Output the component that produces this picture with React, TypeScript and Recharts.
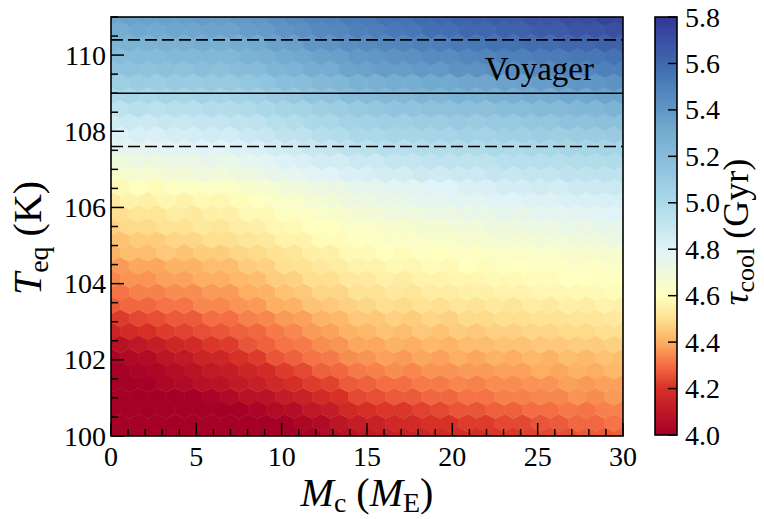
import { ScatterChart, Scatter, XAxis, YAxis, ReferenceLine } from "recharts";

// hexbin centres (gridsize 28 over Mc 0..30, Teq 100..111)
const mcEven = [0, 1.07, 2.14, 3.21, 4.29, 5.36, 6.43, 7.5, 8.57, 9.64, 10.71, 11.79, 12.86, 13.93, 15, 16.07, 17.14, 18.21, 19.29, 20.36, 21.43, 22.5, 23.57, 24.64, 25.71, 26.79, 27.86, 28.93, 30];
const mcOdd = [0.54, 1.61, 2.68, 3.75, 4.82, 5.89, 6.96, 8.04, 9.11, 10.18, 11.25, 12.32, 13.39, 14.46, 15.54, 16.61, 17.68, 18.75, 19.82, 20.89, 21.96, 23.04, 24.11, 25.18, 26.25, 27.32, 28.39, 29.46];
const teqRows = [100, 100.34, 100.69, 101.03, 101.38, 101.72, 102.06, 102.41, 102.75, 103.09, 103.44, 103.78, 104.13, 104.47, 104.81, 105.16, 105.5, 105.84, 106.19, 106.53, 106.88, 107.22, 107.56, 107.91, 108.25, 108.59, 108.94, 109.28, 109.63, 109.97, 110.31, 110.66, 111];

// tau_cool (Gyr) per hex, one row per teqRows entry
const tauRows = [
  [3.90, 3.91, 3.92, 3.93, 3.92, 3.94, 3.95, 3.96, 3.97, 3.98, 3.99, 4.01, 4.05, 4.07, 4.11, 4.12, 4.14, 4.15, 4.17, 4.18, 4.19, 4.21, 4.21, 4.23, 4.24, 4.25, 4.27, 4.27, 4.28],
  [3.92, 3.93, 3.94, 3.95, 3.96, 3.97, 3.97, 3.98, 3.99, 4.00, 4.03, 4.05, 4.09, 4.12, 4.14, 4.17, 4.18, 4.20, 4.20, 4.22, 4.22, 4.24, 4.24, 4.26, 4.27, 4.29, 4.29, 4.31],
  [3.94, 3.95, 3.96, 3.97, 3.97, 3.98, 3.99, 4.00, 4.02, 4.05, 4.06, 4.10, 4.12, 4.17, 4.19, 4.21, 4.21, 4.23, 4.24, 4.26, 4.26, 4.28, 4.28, 4.30, 4.30, 4.32, 4.31, 4.33, 4.33],
  [3.96, 3.97, 3.98, 3.99, 4.00, 4.02, 4.04, 4.07, 4.08, 4.12, 4.14, 4.18, 4.20, 4.24, 4.25, 4.27, 4.27, 4.29, 4.29, 4.31, 4.31, 4.33, 4.33, 4.34, 4.34, 4.36, 4.35, 4.37],
  [3.98, 3.99, 4.00, 4.03, 4.04, 4.07, 4.08, 4.11, 4.13, 4.17, 4.19, 4.22, 4.23, 4.27, 4.28, 4.30, 4.30, 4.32, 4.32, 4.34, 4.33, 4.35, 4.35, 4.36, 4.36, 4.38, 4.37, 4.38, 4.38],
  [4.00, 4.02, 4.03, 4.06, 4.08, 4.11, 4.12, 4.16, 4.18, 4.22, 4.24, 4.28, 4.29, 4.32, 4.33, 4.35, 4.34, 4.36, 4.36, 4.37, 4.37, 4.38, 4.38, 4.40, 4.39, 4.41, 4.40, 4.42],
  [4.02, 4.04, 4.05, 4.09, 4.11, 4.15, 4.16, 4.20, 4.22, 4.26, 4.28, 4.31, 4.32, 4.35, 4.36, 4.38, 4.37, 4.39, 4.38, 4.40, 4.39, 4.41, 4.40, 4.42, 4.41, 4.43, 4.42, 4.44, 4.43],
  [4.07, 4.10, 4.12, 4.16, 4.18, 4.21, 4.22, 4.26, 4.28, 4.31, 4.32, 4.35, 4.36, 4.39, 4.39, 4.41, 4.40, 4.42, 4.41, 4.43, 4.43, 4.44, 4.44, 4.45, 4.45, 4.46, 4.46, 4.47],
  [4.15, 4.18, 4.19, 4.22, 4.23, 4.25, 4.26, 4.28, 4.29, 4.32, 4.34, 4.37, 4.38, 4.41, 4.42, 4.44, 4.43, 4.45, 4.44, 4.46, 4.45, 4.47, 4.47, 4.48, 4.48, 4.49, 4.49, 4.50, 4.50],
  [4.22, 4.24, 4.25, 4.27, 4.27, 4.30, 4.30, 4.33, 4.34, 4.37, 4.38, 4.41, 4.42, 4.45, 4.45, 4.47, 4.46, 4.48, 4.47, 4.49, 4.49, 4.50, 4.50, 4.51, 4.51, 4.52, 4.52, 4.53],
  [4.27, 4.29, 4.29, 4.31, 4.31, 4.34, 4.34, 4.36, 4.37, 4.40, 4.41, 4.44, 4.45, 4.47, 4.48, 4.50, 4.49, 4.51, 4.50, 4.52, 4.51, 4.53, 4.52, 4.54, 4.53, 4.55, 4.54, 4.56, 4.55],
  [4.31, 4.33, 4.33, 4.35, 4.35, 4.37, 4.37, 4.40, 4.41, 4.44, 4.45, 4.48, 4.48, 4.51, 4.51, 4.53, 4.52, 4.54, 4.54, 4.55, 4.55, 4.56, 4.56, 4.57, 4.57, 4.58, 4.58, 4.59],
  [4.34, 4.36, 4.36, 4.38, 4.38, 4.40, 4.40, 4.42, 4.43, 4.46, 4.47, 4.50, 4.50, 4.53, 4.53, 4.55, 4.54, 4.56, 4.56, 4.57, 4.57, 4.58, 4.58, 4.59, 4.59, 4.60, 4.60, 4.61, 4.60],
  [4.37, 4.39, 4.39, 4.41, 4.41, 4.43, 4.43, 4.46, 4.47, 4.50, 4.51, 4.53, 4.54, 4.56, 4.56, 4.58, 4.57, 4.59, 4.58, 4.60, 4.59, 4.61, 4.60, 4.62, 4.61, 4.63, 4.62, 4.63],
  [4.41, 4.43, 4.43, 4.45, 4.44, 4.46, 4.46, 4.48, 4.49, 4.51, 4.52, 4.55, 4.55, 4.58, 4.58, 4.60, 4.59, 4.61, 4.60, 4.62, 4.61, 4.63, 4.63, 4.64, 4.64, 4.65, 4.65, 4.66, 4.66],
  [4.44, 4.46, 4.46, 4.48, 4.48, 4.50, 4.50, 4.52, 4.53, 4.56, 4.56, 4.59, 4.59, 4.61, 4.61, 4.63, 4.63, 4.64, 4.64, 4.66, 4.66, 4.68, 4.67, 4.69, 4.69, 4.70, 4.70, 4.72],
  [4.47, 4.49, 4.49, 4.51, 4.51, 4.53, 4.52, 4.54, 4.55, 4.57, 4.58, 4.60, 4.60, 4.63, 4.63, 4.65, 4.65, 4.67, 4.67, 4.69, 4.69, 4.71, 4.71, 4.72, 4.72, 4.74, 4.73, 4.75, 4.75],
  [4.50, 4.52, 4.52, 4.54, 4.53, 4.55, 4.55, 4.58, 4.58, 4.61, 4.62, 4.64, 4.65, 4.67, 4.68, 4.70, 4.70, 4.72, 4.72, 4.74, 4.74, 4.76, 4.75, 4.77, 4.77, 4.78, 4.78, 4.80],
  [4.54, 4.56, 4.55, 4.57, 4.56, 4.58, 4.57, 4.59, 4.60, 4.63, 4.64, 4.67, 4.68, 4.71, 4.72, 4.74, 4.74, 4.76, 4.76, 4.78, 4.78, 4.80, 4.79, 4.81, 4.81, 4.82, 4.82, 4.83, 4.83],
  [4.58, 4.60, 4.59, 4.61, 4.61, 4.62, 4.62, 4.65, 4.66, 4.69, 4.70, 4.73, 4.73, 4.76, 4.76, 4.78, 4.78, 4.80, 4.80, 4.82, 4.82, 4.84, 4.84, 4.86, 4.85, 4.87, 4.87, 4.88],
  [4.64, 4.66, 4.66, 4.68, 4.68, 4.70, 4.69, 4.71, 4.72, 4.75, 4.76, 4.79, 4.80, 4.82, 4.83, 4.85, 4.85, 4.87, 4.86, 4.88, 4.88, 4.90, 4.89, 4.91, 4.91, 4.92, 4.92, 4.93, 4.93],
  [4.70, 4.72, 4.71, 4.73, 4.73, 4.75, 4.74, 4.77, 4.78, 4.81, 4.82, 4.85, 4.85, 4.88, 4.88, 4.90, 4.90, 4.92, 4.92, 4.93, 4.93, 4.95, 4.95, 4.96, 4.96, 4.97, 4.97, 4.98],
  [4.76, 4.77, 4.77, 4.79, 4.78, 4.80, 4.79, 4.81, 4.82, 4.85, 4.86, 4.89, 4.90, 4.93, 4.94, 4.96, 4.95, 4.97, 4.97, 4.98, 4.98, 5.00, 4.99, 5.01, 5.01, 5.02, 5.02, 5.03, 5.03],
  [4.81, 4.83, 4.82, 4.84, 4.84, 4.86, 4.85, 4.88, 4.89, 4.92, 4.93, 4.96, 4.97, 5.00, 5.00, 5.02, 5.02, 5.03, 5.03, 5.05, 5.04, 5.06, 5.06, 5.08, 5.07, 5.09, 5.09, 5.10],
  [4.86, 4.88, 4.87, 4.89, 4.89, 4.90, 4.90, 4.92, 4.93, 4.96, 4.97, 5.00, 5.01, 5.04, 5.05, 5.07, 5.06, 5.08, 5.08, 5.10, 5.09, 5.11, 5.11, 5.13, 5.13, 5.15, 5.15, 5.17, 5.17],
  [4.93, 4.95, 4.94, 4.96, 4.95, 4.97, 4.97, 4.99, 5.00, 5.03, 5.04, 5.07, 5.08, 5.11, 5.12, 5.14, 5.14, 5.16, 5.16, 5.17, 5.17, 5.19, 5.19, 5.21, 5.21, 5.23, 5.23, 5.25],
  [5.00, 5.02, 5.01, 5.03, 5.02, 5.04, 5.03, 5.05, 5.06, 5.09, 5.11, 5.14, 5.15, 5.19, 5.20, 5.22, 5.22, 5.24, 5.24, 5.26, 5.25, 5.27, 5.27, 5.29, 5.29, 5.32, 5.32, 5.34, 5.34],
  [5.07, 5.09, 5.08, 5.10, 5.09, 5.11, 5.11, 5.13, 5.14, 5.18, 5.19, 5.22, 5.23, 5.26, 5.27, 5.29, 5.29, 5.31, 5.31, 5.33, 5.33, 5.35, 5.35, 5.37, 5.38, 5.40, 5.40, 5.42],
  [5.14, 5.16, 5.15, 5.17, 5.16, 5.18, 5.17, 5.19, 5.20, 5.24, 5.25, 5.29, 5.30, 5.34, 5.35, 5.37, 5.37, 5.39, 5.39, 5.42, 5.42, 5.44, 5.44, 5.46, 5.46, 5.48, 5.48, 5.50, 5.50],
  [5.19, 5.21, 5.20, 5.22, 5.22, 5.23, 5.23, 5.26, 5.27, 5.31, 5.32, 5.35, 5.36, 5.39, 5.40, 5.42, 5.43, 5.45, 5.45, 5.47, 5.48, 5.50, 5.50, 5.52, 5.52, 5.54, 5.54, 5.56],
  [5.24, 5.26, 5.26, 5.27, 5.27, 5.29, 5.28, 5.30, 5.31, 5.35, 5.36, 5.40, 5.41, 5.44, 5.45, 5.47, 5.48, 5.50, 5.51, 5.53, 5.54, 5.56, 5.56, 5.58, 5.58, 5.61, 5.61, 5.63, 5.63],
  [5.30, 5.32, 5.31, 5.33, 5.33, 5.34, 5.34, 5.37, 5.38, 5.41, 5.43, 5.46, 5.47, 5.50, 5.51, 5.53, 5.54, 5.57, 5.57, 5.60, 5.60, 5.62, 5.63, 5.65, 5.65, 5.68, 5.68, 5.70],
  [5.33, 5.35, 5.35, 5.36, 5.36, 5.38, 5.37, 5.39, 5.40, 5.43, 5.45, 5.48, 5.49, 5.52, 5.53, 5.56, 5.56, 5.59, 5.60, 5.62, 5.63, 5.65, 5.65, 5.68, 5.68, 5.71, 5.71, 5.74, 5.74],
];

const xTicks = [0, 1, 2, 3, 4, 5, 6, 7, 8, 9, 10, 11, 12, 13, 14, 15, 16, 17, 18, 19, 20, 21, 22, 23, 24, 25, 26, 27, 28, 29, 30];
const xLabels = [0, 5, 10, 15, 20, 25, 30];
const yTicks = [100, 100.5, 101, 101.5, 102, 102.5, 103, 103.5, 104, 104.5, 105, 105.5, 106, 106.5, 107, 107.5, 108, 108.5, 109, 109.5, 110, 110.5, 111];
const yLabels = [100, 102, 104, 106, 108, 110];
const cbTicks = [4.0, 4.2, 4.4, 4.6, 4.8, 5.0, 5.2, 5.4, 5.6, 5.8];
const voyagerTeq = 109;
const voyagerBand = [110.4, 107.6];

const W = 764;
const H = 519;
const PLOT = { left: 111, top: 17, right: 623, bottom: 436 };
const CB = { left: 655, right: 677, top: 17, bottom: 435 };
const FONT = "Liberation Serif, Times New Roman, DejaVu Serif, serif";
const serif = { fontFamily: FONT };
const TAU_MIN = 4.0;
const TAU_MAX = 5.8;

// colour stops matching the colorbar (RdYlBu)
const stops: [number, string][] = [
  [4.0, "#a50026"],
  [4.2, "#d73027"],
  [4.3, "#f46d43"],
  [4.4, "#fdae61"],
  [4.5, "#fee090"],
  [4.6, "#ffffbf"],
  [4.8, "#e0f3f8"],
  [5.0, "#abd9e9"],
  [5.3, "#74add1"],
  [5.55, "#4575b4"],
  [5.8, "#313695"],
];

const rgb = (h: string) => [1, 3, 5].map((i) => parseInt(h.slice(i, i + 2), 16));

function tauColor(v: number) {
  if (v <= stops[0][0]) return stops[0][1];
  for (let i = 1; i < stops.length; i++) {
    if (v <= stops[i][0]) {
      const [a, ca] = stops[i - 1];
      const [b, cb] = stops[i];
      const t = (v - a) / (b - a);
      const p = rgb(ca);
      const q = rgb(cb);
      const c = p.map((x, j) => Math.round(x + (q[j] - x) * t));
      return `rgb(${c[0]},${c[1]},${c[2]})`;
    }
  }
  return stops[stops.length - 1][1];
}

const hexData = teqRows.flatMap((teq, k) => {
  const xs = k % 2 === 0 ? mcEven : mcOdd;
  return tauRows[k].map((tau, i) => ({ mc: xs[i], teq, tau }));
});

const PW = PLOT.right - PLOT.left;
const PH = PLOT.bottom - PLOT.top;
const HEX_W = (30 / 28) * (PW / 30);
const HEX_SY = (11 / 16) * (PH / 11);

function Hex(props: any) {
  const { cx, cy, payload } = props;
  const w = HEX_W / 2;
  const a = HEX_SY / 3;
  const b = HEX_SY / 6;
  const pts = [
    [cx + w, cy - b],
    [cx + w, cy + b],
    [cx, cy + a],
    [cx - w, cy + b],
    [cx - w, cy - b],
    [cx, cy - a],
  ]
    .map((p) => p.join(","))
    .join(" ");
  const c = tauColor(payload.tau);
  return <polygon points={pts} fill={c} stroke={c} strokeWidth={0.7} />;
}

const tickX = (p: any) => (p.payload && p.payload.coordinate != null ? p.payload.coordinate : p.x);
const tickY = (p: any) => (p.payload && p.payload.coordinate != null ? p.payload.coordinate : p.y);

function XTickBottom(p: any) {
  const x = tickX(p);
  const v = p.payload.value;
  const major = xLabels.includes(v);
  return (
    <g>
      <line x1={x} x2={x} y1={PLOT.bottom} y2={PLOT.bottom - (major ? 13 : 7)} stroke="#000" strokeWidth={1.5} />
      {major && (
        <text x={x} y={466} textAnchor="middle" fontSize={28} style={serif} fill="#000">
          {v}
        </text>
      )}
    </g>
  );
}

function XTickTop(p: any) {
  const x = tickX(p);
  const major = xLabels.includes(p.payload.value);
  return <line x1={x} x2={x} y1={PLOT.top} y2={PLOT.top + (major ? 13 : 7)} stroke="#000" strokeWidth={1.5} />;
}

function YTickLeft(p: any) {
  const y = tickY(p);
  const v = p.payload.value;
  const major = yLabels.includes(v);
  return (
    <g>
      <line x1={PLOT.left} x2={PLOT.left + (major ? 13 : 7)} y1={y} y2={y} stroke="#000" strokeWidth={1.5} />
      {major && (
        <text x={106} y={y + 9.5} textAnchor="end" fontSize={28} style={serif} fill="#000">
          {v}
        </text>
      )}
    </g>
  );
}

function YTickRight(p: any) {
  const y = tickY(p);
  const major = yLabels.includes(p.payload.value);
  return <line x1={PLOT.right} x2={PLOT.right - (major ? 13 : 7)} y1={y} y2={y} stroke="#000" strokeWidth={1.5} />;
}

const cbY = (v: number) => CB.bottom - ((v - TAU_MIN) / (TAU_MAX - TAU_MIN)) * (CB.bottom - CB.top);

function Overlay() {
  return (
    <svg width={W} height={H} style={{ position: "absolute", left: 0, top: 0, pointerEvents: "none" }}>
      <defs>
        <linearGradient id="cbar" x1="0" y1="1" x2="0" y2="0">
          {stops.map(([v, c]) => (
            <stop key={v} offset={(v - TAU_MIN) / (TAU_MAX - TAU_MIN)} stopColor={c} />
          ))}
        </linearGradient>
      </defs>
      <rect x={PLOT.left} y={PLOT.top} width={PW} height={PH} fill="none" stroke="#000" strokeWidth={1.6} />
      <rect x={CB.left} y={CB.top} width={CB.right - CB.left} height={CB.bottom - CB.top} fill="url(#cbar)" stroke="#000" strokeWidth={1.6} />
      {cbTicks.map((v) => (
        <g key={v}>
          <line x1={CB.right} x2={CB.right - 9} y1={cbY(v)} y2={cbY(v)} stroke="#000" strokeWidth={1.5} />
          <text x={685} y={cbY(v) + 9.5} fontSize={28} style={serif} fill="#000">
            {v.toFixed(1)}
          </text>
        </g>
      ))}
      <text x={367} y={506} textAnchor="middle" fontSize={40} style={serif} fill="#000">
        <tspan fontStyle="italic">M</tspan>
        <tspan fontSize={28} dy={6}>c</tspan>
        <tspan dy={-6}> (</tspan>
        <tspan fontStyle="italic">M</tspan>
        <tspan fontSize={28} dy={6}>E</tspan>
        <tspan dy={-6}>)</tspan>
      </text>
      <text x={41} y={238} textAnchor="middle" fontSize={40} style={serif} fill="#000" transform="rotate(-90 41 238)">
        <tspan fontStyle="italic">T</tspan>
        <tspan fontSize={28} dy={7}>eq</tspan>
        <tspan dy={-7}> (K)</tspan>
      </text>
      <text x={748} y={232} textAnchor="middle" fontSize={36} style={serif} fill="#000" transform="rotate(-90 748 232)">
        <tspan fontStyle="italic">τ</tspan>
        <tspan fontSize={26} dy={6}>cool</tspan>
        <tspan dy={-6}> (Gyr)</tspan>
      </text>
    </svg>
  );
}

function VoyagerLabel(props: any) {
  const vb = props.viewBox || {};
  return (
    <text x={vb.x + vb.width - 29} y={vb.y - 13} textAnchor="end" fontSize={33} style={serif} fill="#000">
      Voyager
    </text>
  );
}

export default function App() {
  return (
    <div style={{ position: "relative", width: W, height: H, background: "#fff", fontFamily: FONT }}>
      <style>{"body{margin:0}"}</style>
      <ScatterChart width={W} height={H} margin={{ top: PLOT.top, right: W - PLOT.right, bottom: 0, left: 0 }}>
        <XAxis
          xAxisId="b"
          dataKey="mc"
          type="number"
          domain={[0, 30]}
          ticks={xTicks}
          interval={0}
          allowDataOverflow
          height={H - PLOT.bottom}
          tickLine={false}
          axisLine={false}
          tick={<XTickBottom />}
        />
        <XAxis
          xAxisId="t"
          orientation="top"
          type="number"
          domain={[0, 30]}
          ticks={xTicks}
          interval={0}
          height={0}
          tickLine={false}
          axisLine={false}
          tick={<XTickTop />}
        />
        <YAxis
          yAxisId="l"
          dataKey="teq"
          type="number"
          domain={[100, 111]}
          ticks={yTicks}
          interval={0}
          allowDataOverflow
          width={PLOT.left}
          tickLine={false}
          axisLine={false}
          tick={<YTickLeft />}
        />
        <YAxis
          yAxisId="r"
          orientation="right"
          type="number"
          domain={[100, 111]}
          ticks={yTicks}
          interval={0}
          width={0}
          tickLine={false}
          axisLine={false}
          tick={<YTickRight />}
        />
        <Scatter
          data={hexData}
          xAxisId="b"
          yAxisId="l"
          shape={<Hex />}
          isAnimationActive={false}
        />
        <ReferenceLine
          xAxisId="b"
          yAxisId="l"
          y={voyagerTeq}
          stroke="#000"
          strokeWidth={1.6}
          label={<VoyagerLabel />}
          isFront
          zIndex={2000}
        />
        {voyagerBand.map((v) => (
          <ReferenceLine
            key={v}
            xAxisId="b"
            yAxisId="l"
            y={v}
            stroke="#000"
            strokeWidth={1.6}
            strokeDasharray="12 5"
            isFront
            zIndex={2000}
          />
        ))}
      </ScatterChart>
      <Overlay />
    </div>
  );
}
